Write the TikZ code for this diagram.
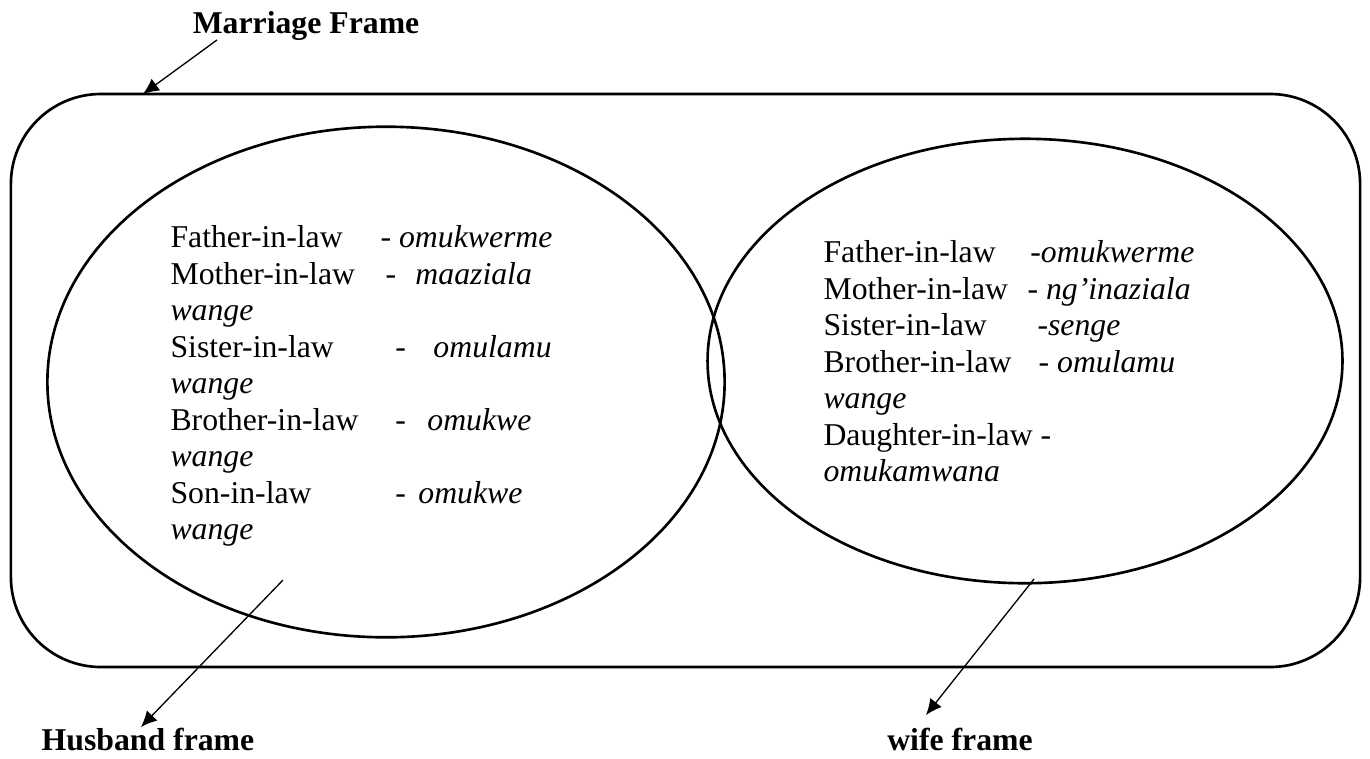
\documentclass[tikz,border=0pt]{standalone}
\usepackage{fontspec}
\setmainfont{Liberation Serif}
\usetikzlibrary{shapes.geometric, arrows.meta}

\tikzset{
	frameline/.style = {draw, line width = 1pt},
	pointer/.style = {->, line width = 0.5pt},
	framelabel/.style = {font = \bfseries\fontsize{12}{13.8}\selectfont, inner sep = 0pt, anchor = base},
	termlist/.style = {font = \fontsize{12}{13.8}\selectfont, align = left, inner sep = 0pt, anchor = north west}
}

\begin{document}
\begin{tikzpicture}[> = {Latex[length = 6pt, width = 5.5pt]}, x = 0.378pt, y = -0.378pt]

	\useasboundingbox (0, 0) rectangle (1370, 758);

	% Marriage frame
	
	\node [frameline, rounded corners = 34pt, minimum width = 510pt, minimum height = 216.6pt] (marriage) at (685.5, 380.5) {};
	
	% Husband and wife frames
	
	\node [frameline, ellipse, minimum width = 256pt, minimum height = 193pt] (husband) at (386, 382) {};
	\node [frameline, ellipse, minimum width = 240pt, minimum height = 168pt] (wife) at (1025, 361) {};
	
	% Terms
	
	\node [termlist] (husbandlist) at (170, 225) {%
		\makebox[79.4pt][l]{Father-in-law}- \textit{omukwerme}\\
		\makebox[81.3pt][l]{Mother-in-law}-\hspace{7.3pt}\textit{maaziala}\\
		\textit{wange}\\
		\makebox[85pt][l]{Sister-in-law}-\hspace{10.4pt}\textit{omulamu}\\
		\textit{wange}\\
		\makebox[85pt][l]{Brother-in-law}-\hspace{8.1pt}\textit{omukwe}\\
		\textit{wange}\\
		\makebox[85pt][l]{Son-in-law}-\hspace{4.7pt}\textit{omukwe}\\
		\textit{wange}};
	
	\node [termlist] (wifelist) at (823, 240) {%
		\makebox[78.2pt][l]{Father-in-law}-\textit{omukwerme}\\
		\makebox[77.1pt][l]{Mother-in-law}- \textit{ng’inaziala}\\
		\makebox[80.9pt][l]{Sister-in-law}-\textit{senge}\\
		\makebox[81.3pt][l]{Brother-in-law}- \textit{omulamu}\\
		\textit{wange}\\
		Daughter-in-law -\\
		\textit{omukamwana}};
	
	% Labels w/ pointers
	
	\node [framelabel] (marriagelabel) at (306, 33) {Marriage Frame};
	\node [framelabel] (husbandlabel) at (148, 750) {Husband frame};
	\node [framelabel] (wifelabel) at (960, 750) {wife frame};
	
	\coordinate (marriagetail) at (217, 40);
	\coordinate (marriagehead) at (143, 94);
	\coordinate (husbandtail) at (283, 580);
	\coordinate (husbandhead) at (141, 727);
	\coordinate (wifetail) at (1034, 579);
	\coordinate (wifehead) at (926, 715);
	
	\draw [pointer] (marriagetail) -- (marriagehead);
	\draw [pointer] (husbandtail) -- (husbandhead);
	\draw [pointer] (wifetail) -- (wifehead);
	
\end{tikzpicture}
\end{document}
